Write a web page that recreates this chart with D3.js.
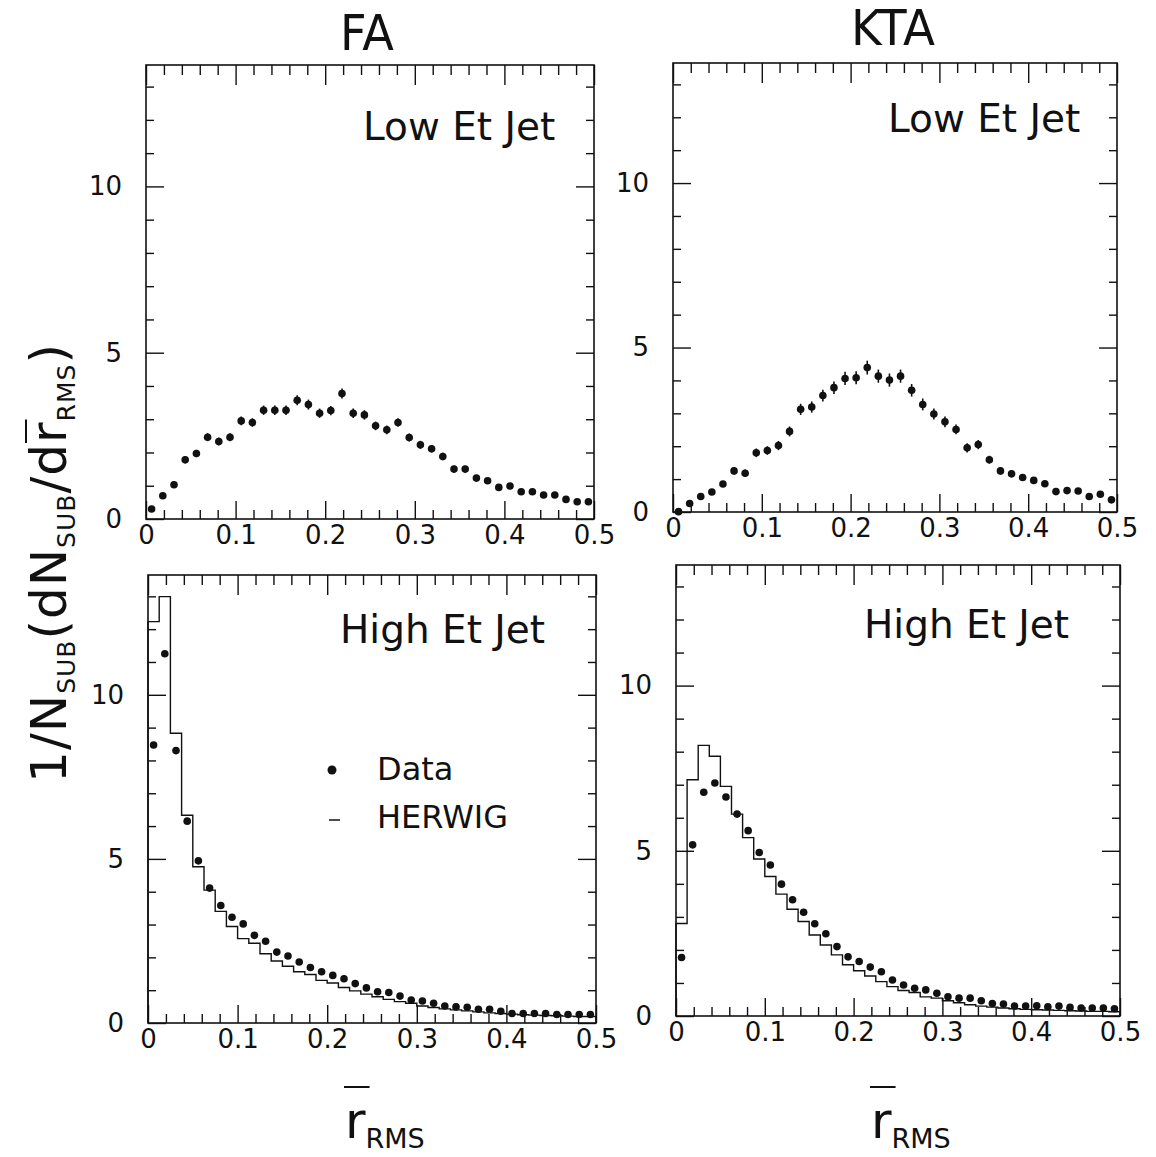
<!DOCTYPE html>
<meta charset="utf-8">
<script src="https://d3js.org/d3.v7.min.js"></script>
<style>
  body { margin: 0; background: #fff; }
  text { font-family: "DejaVu Sans", sans-serif; fill: #111; }
</style>
<div id="vis_data"></div>

<script>

    // 40 bins of r_RMS between 0 and 0.5
    var binWidth = 0.0125;

    var columnTitles = ["FA", "KTA"];
    var xTicks = [0, 0.1, 0.2, 0.3, 0.4, 0.5];
    var xTickLabels = ["0", "0.1", "0.2", "0.3", "0.4", "0.5"];
    var yTicks = [0, 5, 10];
    var yTickLabels = ["0", "5", "10"];
    var yMax = 13.65;

    // Low Et jets (data only)
    var faLowData = [0.30, 0.70, 1.03, 1.78, 1.97, 2.46, 2.33, 2.46, 2.95, 2.90,
                     3.27, 3.27, 3.27, 3.57, 3.44, 3.18, 3.26, 3.77, 3.18, 3.13,
                     2.80, 2.68, 2.90, 2.45, 2.23, 2.11, 1.88, 1.50, 1.50, 1.23,
                     1.15, 0.95, 0.99, 0.82, 0.82, 0.72, 0.72, 0.59, 0.52, 0.52];
    var faLowErr = [0.06, 0.08, 0.09, 0.11, 0.11, 0.12, 0.12, 0.12, 0.13, 0.13,
                    0.14, 0.14, 0.14, 0.15, 0.15, 0.14, 0.14, 0.15, 0.14, 0.14,
                    0.13, 0.13, 0.13, 0.12, 0.12, 0.11, 0.11, 0.10, 0.10, 0.09,
                    0.09, 0.08, 0.08, 0.08, 0.08, 0.07, 0.07, 0.07, 0.06, 0.06];
    var ktaLowData = [0.01, 0.26, 0.47, 0.61, 0.85, 1.25, 1.18, 1.80, 1.87, 2.02,
                      2.45, 3.12, 3.19, 3.54, 3.78, 4.06, 4.08, 4.39, 4.13, 4.01,
                      4.13, 3.70, 3.27, 2.98, 2.74, 2.51, 1.95, 2.05, 1.59, 1.25,
                      1.16, 1.05, 0.96, 0.86, 0.62, 0.65, 0.64, 0.47, 0.54, 0.37];
    var ktaLowErr = [0.02, 0.05, 0.07, 0.08, 0.09, 0.11, 0.11, 0.13, 0.13, 0.14,
                     0.15, 0.17, 0.17, 0.18, 0.19, 0.20, 0.20, 0.21, 0.20, 0.20,
                     0.20, 0.19, 0.18, 0.17, 0.16, 0.15, 0.14, 0.14, 0.12, 0.11,
                     0.10, 0.10, 0.10, 0.09, 0.08, 0.08, 0.08, 0.07, 0.07, 0.06];

    // High Et jets: data points and HERWIG histogram
    var faHighData = [8.47, 11.25, 8.30, 6.15, 4.94, 4.11, 3.58, 3.22, 3.02, 2.67,
                      2.49, 2.16, 2.04, 1.86, 1.69, 1.56, 1.45, 1.35, 1.20, 1.07,
                      0.95, 0.93, 0.82, 0.70, 0.67, 0.60, 0.52, 0.49, 0.48, 0.42,
                      0.42, 0.36, 0.29, 0.29, 0.29, 0.29, 0.26, 0.26, 0.26, 0.26];
    var faHighHerwig = [12.23, 12.99, 8.83, 6.33, 4.76, 4.05, 3.40, 2.94, 2.57, 2.43,
                        2.11, 1.89, 1.73, 1.56, 1.48, 1.30, 1.22, 1.08, 0.98, 0.88,
                        0.80, 0.72, 0.65, 0.60, 0.52, 0.47, 0.43, 0.40, 0.37, 0.34,
                        0.31, 0.29, 0.27, 0.25, 0.24, 0.23, 0.22, 0.21, 0.20, 0.20];
    var ktaHighData = [1.77, 5.18, 6.77, 7.05, 6.63, 6.11, 5.61, 4.95, 4.57, 3.99,
                       3.52, 3.14, 2.79, 2.49, 2.10, 1.79, 1.65, 1.48, 1.34, 1.09,
                       0.94, 0.84, 0.79, 0.69, 0.58, 0.54, 0.54, 0.46, 0.38, 0.36,
                       0.30, 0.30, 0.31, 0.28, 0.30, 0.26, 0.24, 0.24, 0.24, 0.22];
    var ktaHighHerwig = [2.80, 7.15, 8.19, 7.86, 6.95, 6.11, 5.40, 4.75, 4.22, 3.69,
                         3.23, 2.86, 2.45, 2.15, 1.85, 1.55, 1.37, 1.21, 1.04, 0.89,
                         0.77, 0.71, 0.58, 0.54, 0.46, 0.40, 0.34, 0.30, 0.27, 0.24,
                         0.22, 0.20, 0.19, 0.18, 0.17, 0.16, 0.15, 0.14, 0.14, 0.13];

    // frame of each of the four pads (pixels)
    var panels = [
        {left: 146, right: 594, top: 65,  bottom: 519,  data: faLowData,  err: faLowErr,
         label: "Low Et Jet",  labelX: 363, labelY: 140},
        {left: 673, right: 1117, top: 63, bottom: 512,  data: ktaLowData, err: ktaLowErr,
         label: "Low Et Jet",  labelX: 888, labelY: 132},
        {left: 148, right: 596, top: 575, bottom: 1023, data: faHighData, mc: faHighHerwig,
         label: "High Et Jet", labelX: 340, labelY: 643, legend: true, title: true},
        {left: 676, right: 1120, top: 565, bottom: 1016, data: ktaHighData, mc: ktaHighHerwig,
         label: "High Et Jet", labelX: 864, labelY: 638, title: true}
    ];

    var svg = d3.select("#vis_data")
        .append("svg")
        .attr("width", 1156)
        .attr("height", 1157);

    var ink = "#111";

    function tickGroup(g, axis, tr, vals, size, labels, pad) {
        var a = g.append("g")
            .attr("transform", tr)
            .attr("color", ink)
            .call(axis.tickValues(vals)
                .tickSize(-size)
                .tickPadding(pad || 3)
                .tickFormat(labels ? function(d, i) { return labels[i]; } : ""));
        a.select(".domain").remove();
        a.selectAll("line").attr("stroke-width", 1.4);
        a.attr("font-family", "DejaVu Sans, sans-serif").attr("font-size", 26);
        return a;
    }

    function drawPanel(p) {
        var x = d3.scaleLinear().domain([0, 0.5]).range([p.left, p.right]);
        var y = d3.scaleLinear().domain([0, yMax]).range([p.bottom, p.top]);
        var g = svg.append("g");

        var xMinor = d3.range(1, 25).filter(function(k) { return k % 5 != 0; })
            .map(function(k) { return k * 0.02; });
        var yMinor = d3.range(1, 14).filter(function(k) { return k % 5 != 0; });

        // minor ticks on all four sides, pointing in
        tickGroup(g, d3.axisBottom(x), "translate(0," + p.bottom + ")", xMinor, 9);
        tickGroup(g, d3.axisTop(x), "translate(0," + p.top + ")", xMinor, 10);
        tickGroup(g, d3.axisLeft(y), "translate(" + p.left + ",0)", yMinor, 8);
        tickGroup(g, d3.axisRight(y), "translate(" + p.right + ",0)", yMinor, 8);

        // major ticks, labels on bottom and left
        tickGroup(g, d3.axisBottom(x), "translate(0," + p.bottom + ")", xTicks, 18, xTickLabels, 7);
        tickGroup(g, d3.axisTop(x), "translate(0," + p.top + ")", xTicks, 20);
        tickGroup(g, d3.axisLeft(y), "translate(" + p.left + ",0)", yTicks, 18, yTickLabels, 24);
        tickGroup(g, d3.axisRight(y), "translate(" + p.right + ",0)", yTicks, 18);

        // frame
        g.append("rect")
            .attr("x", p.left).attr("y", p.top)
            .attr("width", p.right - p.left).attr("height", p.bottom - p.top)
            .attr("fill", "none").attr("stroke", ink).attr("stroke-width", 1.6);

        // HERWIG histogram
        if (p.mc) {
            var pts = [[0, 0]];
            p.mc.forEach(function(v, i) { pts.push([i * binWidth, v]); });
            pts.push([0.5, p.mc[p.mc.length - 1]]);
            pts.push([0.5, 0]);
            g.append("path")
                .attr("d", d3.line()
                    .x(function(d) { return x(d[0]); })
                    .y(function(d) { return y(d[1]); })
                    .curve(d3.curveStepAfter)(pts))
                .attr("fill", "none")
                .attr("stroke", ink)
                .attr("stroke-width", 1.4);
        }

        // error bars
        if (p.err) {
            g.selectAll("line.err")
                .data(p.data).enter()
                .append("line")
                .attr("class", "err")
                .attr("x1", function(d, i) { return x((i + 0.5) * binWidth); })
                .attr("x2", function(d, i) { return x((i + 0.5) * binWidth); })
                .attr("y1", function(d, i) { return y(Math.max(0, d - p.err[i])); })
                .attr("y2", function(d, i) { return y(d + p.err[i]); })
                .attr("stroke", ink)
                .attr("stroke-width", 1.6);
        }

        // data points
        g.selectAll("circle.pt")
            .data(p.data).enter()
            .append("circle")
            .attr("class", "pt")
            .attr("cx", function(d, i) { return x((i + 0.5) * binWidth); })
            .attr("cy", function(d) { return y(d); })
            .attr("r", 3.8)
            .attr("fill", ink);

        g.append("text")
            .attr("x", p.labelX).attr("y", p.labelY)
            .attr("font-size", 39)
            .text(p.label);

        if (p.legend) {
            g.append("circle").attr("cx", 332).attr("cy", 770).attr("r", 4.5).attr("fill", ink);
            g.append("text").attr("x", 377).attr("y", 780).attr("font-size", 32).text("Data");
            g.append("line").attr("x1", 329).attr("x2", 340).attr("y1", 820).attr("y2", 820)
                .attr("stroke", ink).attr("stroke-width", 1.5);
            g.append("text").attr("x", 377).attr("y", 828).attr("font-size", 32).text("HERWIG");
        }

        // x-axis title: r-bar with RMS subscript
        if (p.title) {
            var cx = (p.left + p.right) / 2 - 27;
            var r = g.append("text").attr("x", cx).attr("y", 1138).attr("font-size", 50).text("r");
            var w = r.node().getComputedTextLength();
            g.append("line")
                .attr("x1", cx - 1).attr("x2", cx + w + 4)
                .attr("y1", 1087).attr("y2", 1087)
                .attr("stroke", ink).attr("stroke-width", 2);
            g.append("text").attr("x", cx + w).attr("y", 1148).attr("font-size", 27).text("RMS");
        }
    }

    panels.forEach(drawPanel);

    // column titles
    svg.append("text").attr("x", 367).attr("y", 50).attr("text-anchor", "middle")
        .attr("font-size", 50).attr("textLength", 54).attr("lengthAdjust", "spacingAndGlyphs")
        .text(columnTitles[0]);
    svg.append("text").attr("x", 893).attr("y", 45).attr("text-anchor", "middle")
        .attr("font-size", 50).attr("textLength", 84).attr("lengthAdjust", "spacingAndGlyphs")
        .text(columnTitles[1]);

    // rotated y-axis title: 1/N_SUB (dN_SUB / d r-bar_RMS)
    var segs = [
        {t: "1/N", s: 50}, {t: "SUB", s: 25, sub: true},
        {t: "(dN", s: 50}, {t: "SUB", s: 25, sub: true},
        {t: "/d", s: 50}, {t: "r", s: 50, bar: true},
        {t: "RMS", s: 25, sub: true}, {t: " )", s: 50}
    ];
    var yl = svg.append("g");
    var pos = 0;
    segs.forEach(function(sg) {
        var t = yl.append("text")
            .attr("x", pos)
            .attr("y", sg.sub ? 9 : 0)
            .attr("font-size", sg.s)
            .attr("letter-spacing", 1)
            .text(sg.t);
        var w = t.node().getComputedTextLength();
        if (sg.bar) {
            yl.append("line").attr("x1", pos).attr("x2", pos + w + 2)
                .attr("y1", -40).attr("y2", -40)
                .attr("stroke", ink).attr("stroke-width", 2);
        }
        pos += w;
    });
    yl.attr("transform", "translate(66," + (563 + pos / 2) + ") rotate(-90)");

</script>
